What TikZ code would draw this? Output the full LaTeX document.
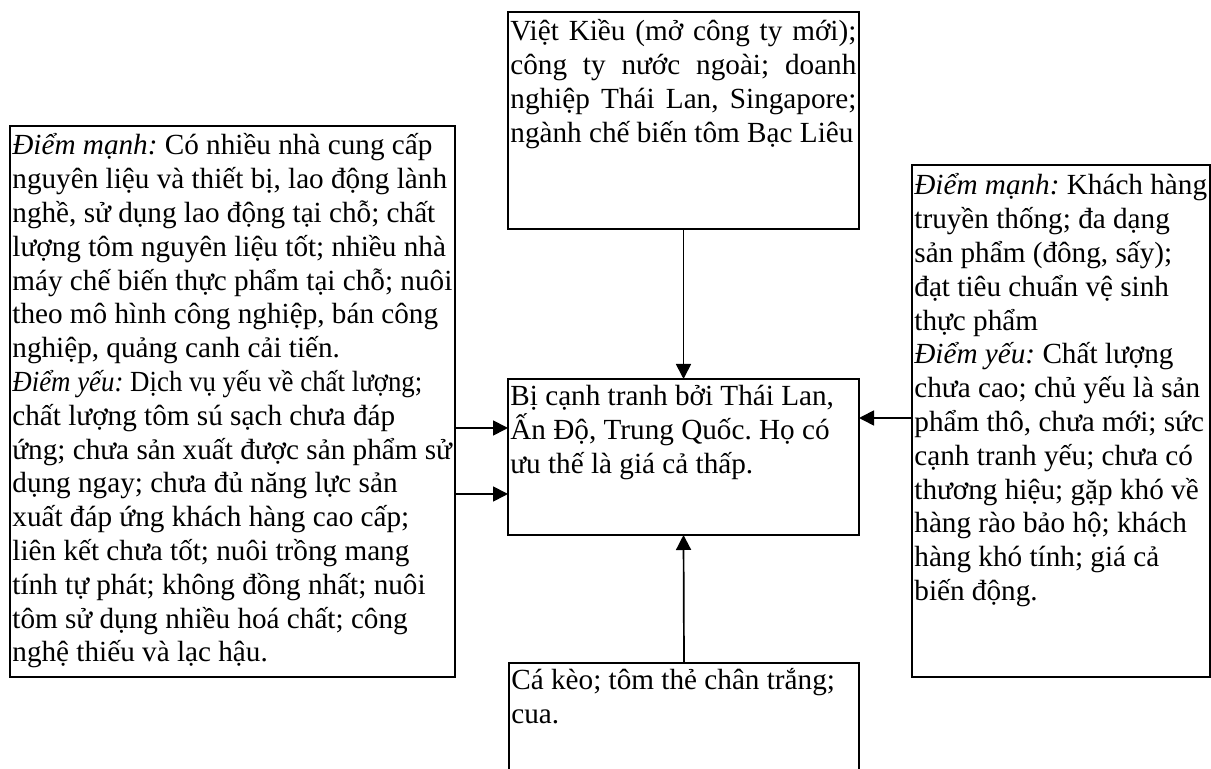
\documentclass[tikz,border=0pt]{standalone}
\usepackage{fontspec}
\usepackage{graphicx}
\setmainfont{Liberation Serif}
\usetikzlibrary{arrows.meta}
\begin{document}
\frenchspacing
\begin{tikzpicture}[x=0.5pt,y=-0.5pt,
  box/.style={draw, line width=0.75pt, inner sep=0pt, outer sep=0pt, anchor=north west},
  txt/.style={inner sep=0pt, anchor=base west, font=\frenchspacing\fontsize{14.6pt}{16.9pt}\selectfont},
  arr/.style={line width=0.85pt, -{Triangle[length=7.5pt,width=7.5pt]}}]
\clip (0,0) rectangle (1211,769);
\fill[white] (0,0) rectangle (1211,769);
% boxes
\node[box, minimum width=222.5pt, minimum height=275.5pt] (L) at (10,126) {};
\node[box, minimum width=175.5pt, minimum height=108.5pt] (T) at (508,12) {};
\node[box, minimum width=175.5pt, minimum height=78pt] (C) at (508,379) {};
\node[box, minimum width=149pt, minimum height=256pt] (R) at (912,165) {};
\node[box, minimum width=175pt, minimum height=100pt] (B) at (509,663) {};
% texts
\node[txt] (Lt) at (12,155) {\parbox[t]{260pt}{\raggedright\frenchspacing
{\itshape Điểm mạnh:} Có nhiều nhà cung cấp\\
nguyên liệu và thiết bị, lao động lành\\
nghề, sử dụng lao động tại chỗ; chất\\
lượng tôm nguyên liệu tốt; nhiều nhà\\
máy chế biến thực phẩm tại chỗ; nuôi\\
theo mô hình công nghiệp, bán công\\
nghiệp, quảng canh cải tiến.\\
\scalebox{0.92}[1]{{\itshape Điểm yếu:} Dịch vụ yếu về chất lượng;}\\
chất lượng tôm sú sạch chưa đáp\\
ứng; chưa sản xuất được sản phẩm sử\\
dụng ngay; chưa đủ năng lực sản\\
xuất đáp ứng khách hàng cao cấp;\\
liên kết chưa tốt; nuôi trồng mang\\
tính tự phát; không đồng nhất; nuôi\\
tôm sử dụng nhiều hoá chất; công\\
nghệ thiếu và lạc hậu.}};
\node[txt] (Tt) at (510,41) {\parbox[t]{173pt}{\raggedright\frenchspacing
\makebox[\linewidth][s]{Việt Kiều (mở công ty mới);}\\
\makebox[\linewidth][s]{công ty nước ngoài; doanh}\\
\makebox[\linewidth][s]{nghiệp Thái Lan, Singapore;}\\
ngành chế biến tôm Bạc Liêu}};
\node[txt] (Ct) at (510,406) {\parbox[t]{200pt}{\raggedright\frenchspacing
Bị cạnh tranh bởi Thái Lan,\\
Ấn Độ, Trung Quốc. Họ có\\
ưu thế là giá cả thấp.}};
\node[txt] (Rt) at (914,195) {\parbox[t]{180pt}{\raggedright\frenchspacing
{\itshape Điểm mạnh:} Khách hàng\\
truyền thống; đa dạng\\
sản phẩm (đông, sấy);\\
đạt tiêu chuẩn vệ sinh\\
thực phẩm\\
{\itshape Điểm yếu:} Chất lượng\\
chưa cao; chủ yếu là sản\\
phẩm thô, chưa mới; sức\\
cạnh tranh yếu; chưa có\\
thương hiệu; gặp khó về\\
hàng rào bảo hộ; khách\\
hàng khó tính; giá cả\\
biến động.}};
\node[txt] (Bt) at (511,690) {\parbox[t]{200pt}{\raggedright\frenchspacing
Cá kèo; tôm thẻ chân trắng;\\
cua.}};
% connectors
\coordinate (yA) at (0,428);
\coordinate (yB) at (0,494);
\coordinate (yC) at (0,418);
\draw[arr] (T.south) -- (C.north);
\draw[arr] (B.north) -- (C.south);
\draw[arr] (L.east |- yA) -- (C.west |- yA);
\draw[arr] (L.east |- yB) -- (C.west |- yB);
\draw[arr] (R.west |- yC) -- (C.east |- yC);
\end{tikzpicture}
\end{document}
